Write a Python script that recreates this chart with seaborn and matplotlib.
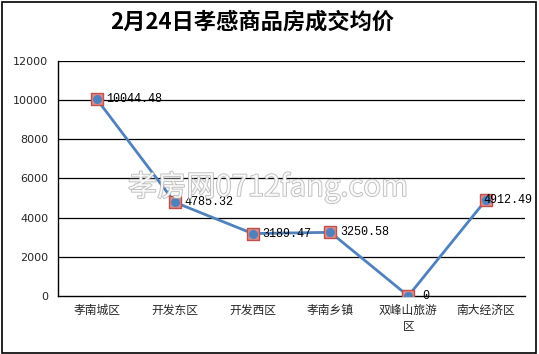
import matplotlib
matplotlib.use("Agg")
import matplotlib.pyplot as plt
import matplotlib.patheffects as pe
import seaborn as sns
import pandas as pd

categories = ["孝南城区", "开发东区", "开发西区", "孝南乡镇", "双峰山旅游\n区", "南大经济区"]
prices = [10044.48, 4785.32, 3189.47, 3250.58, 0, 4912.49]
price_labels = ["10044.48", "4785.32", "3189.47", "3250.58", "0", "4912.49"]
y_ticks = [0, 2000, 4000, 6000, 8000, 10000, 12000]
title = "2月24日孝感商品房成交均价"

sns.set_style("white")
plt.rcParams['font.family'] = ['Noto Sans CJK SC', 'DejaVu Sans']

df = pd.DataFrame({"pos": range(len(categories)), "price": prices})

fig = plt.figure(figsize=(5.39, 3.54), dpi=100)
fig.patches.append(plt.Rectangle((0.004, 0.004), 0.99, 0.99, transform=fig.transFigure,
                                 fill=False, edgecolor="black", linewidth=1.2))
ax = fig.add_axes([58/539, (354-296)/354, (525-58)/539, (296-61)/354])

for yv in y_ticks[1:]:
    ax.axhline(yv, color="black", linewidth=0.9, zorder=1)

sns.lineplot(data=df, x="pos", y="price", ax=ax, color="#4f81bd", linewidth=2.0, zorder=3)
ax.scatter(df["pos"], df["price"], marker="s", s=70, facecolor="#d98c8c",
           edgecolor="#c0504d", linewidth=1.0, zorder=4)
ax.scatter(df["pos"], df["price"], marker="o", s=30, color="#4f81bd", zorder=5)

offsets = [(7, 0), (7, 0), (7, 0), (7, 0), (10, 0), (-2, 0)]
for i, (v, lab) in enumerate(zip(prices, price_labels)):
    ax.annotate(lab, (i, v), xytext=offsets[i], textcoords="offset points",
                ha="left", va="center", fontsize=8.5, family="Liberation Mono",
                color="black", zorder=6)

ax.set_xlim(-0.5, len(categories) - 0.5)
ax.set_ylim(0, 12000)
ax.set_yticks(y_ticks)
ax.set_yticklabels([str(t) for t in y_ticks], fontsize=8, family="DejaVu Sans")
ax.set_xticks([i - 0.5 for i in range(len(categories) + 1)])
ax.set_xticklabels([])
ax.set_xticks(range(len(categories)), minor=True)
ax.set_xticklabels(categories, minor=True, fontsize=8.5, va="top", linespacing=1.3)
ax.tick_params(axis="x", which="major", direction="out", length=4, width=1, color="black")
ax.tick_params(axis="x", which="minor", length=0, pad=6)
ax.tick_params(axis="y", direction="out", length=4, width=1, color="black", pad=3)
ax.set_xlabel("")
ax.set_ylabel("")
for s in ["top", "right"]:
    ax.spines[s].set_visible(False)
for s in ["left", "bottom"]:
    ax.spines[s].set_color("black")
    ax.spines[s].set_linewidth(1)

fig.text(252/539, 1 - 22/354, title, ha="center", va="center", fontsize=16,
         fontweight="bold", color="black")

wm = fig.text(128/539, 1 - 187/354, "孝房网0712fang.com", ha="left", va="center",
              fontsize=21, color="white", alpha=0.85, zorder=10)
wm.set_path_effects([pe.Stroke(linewidth=1.2, foreground="#b0b0b0"), pe.Normal()])

fig.savefig("out.png", dpi=100)
